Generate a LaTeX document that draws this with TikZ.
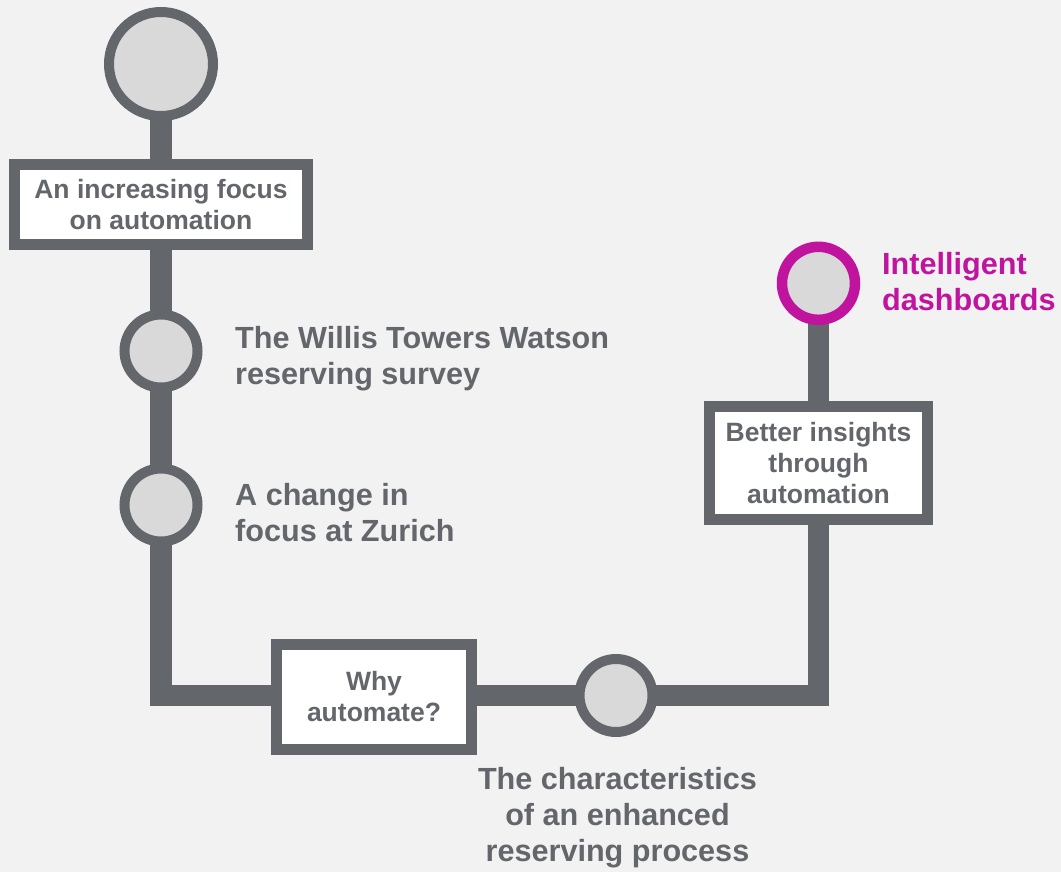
\documentclass[tikz,border=0pt]{standalone}
\usepackage{fontspec}
\setmainfont{Liberation Sans}
\definecolor{slate}{HTML}{63666A}
\definecolor{paper}{HTML}{F2F2F2}
\definecolor{bead}{HTML}{D9D9D9}
\definecolor{berry}{RGB}{192,20,158}
\pgfdeclarelayer{paperlayer}
\pgfdeclarelayer{wirelayer}
\pgfsetlayers{paperlayer,wirelayer,main}

\begin{document}
\begin{tikzpicture}[x=1pt,y=-1pt,
  track/.style={draw=slate,line width=21.5pt,line join=miter},
  bigstop/.style={circle,draw=slate,fill=bead,line width=10pt,minimum size=104pt,inner sep=0pt},
  stop/.style={circle,draw=slate,fill=bead,line width=10pt,minimum size=73pt,inner sep=0pt},
  goal/.style={stop,draw=berry,line width=10.5pt},
  station/.style={rectangle,draw=slate,fill=white,line width=11pt,inner sep=0pt,
    align=center,text=slate,font=\fontsize{26.5}{31}\selectfont\bfseries},
  caption/.style={inner sep=0pt,text=slate,font=\fontsize{30.6}{36}\selectfont\bfseries}
]
\useasboundingbox (0,0) rectangle (1061,872);
\begin{pgfonlayer}{paperlayer}
  \fill[paper] (0,0) rectangle (1061,872);
\end{pgfonlayer}

% stops along the line
\node[bigstop] (start) at (161,64) {};
\node[station,minimum width=293pt,minimum height=80pt] (focus) at (161,204.5)
  {An increasing focus\\on automation};
\node[stop] (survey) at (161,351) {};
\node[stop] (zurich) at (161,505) {};
\node[station,minimum width=195pt,minimum height=105pt] (why) at (374,697)
  {Why\\automate?};
\node[stop] (traits) at (616,695.5) {};
\node[station,minimum width=218pt,minimum height=112.5pt] (insights) at (818.5,463.2)
  {Better insights\\through\\automation};
\node[goal] (dash) at (818.5,283.3) {};

\coordinate (bendL) at (161,695.5);
\coordinate (bendR) at (818.5,695.5);

% labels beside the stops
\node[caption,anchor=north west,align=left] (surveytxt) at (235,326)
  {The Willis Towers Watson\\reserving survey};
\node[caption,anchor=north west,align=left] (zurichtxt) at (235,483)
  {A change in\\focus at Zurich};
\node[caption,anchor=north,align=center] (traitstxt) at (617.5,767)
  {The characteristics\\of an enhanced\\reserving process};
\node[caption,anchor=north west,align=left,text=berry] (dashtxt) at (882,252)
  {Intelligent\\dashboards};

% the line itself, behind the stops
\begin{pgfonlayer}{wirelayer}
  \draw[track] (start.center) -- (bendL) -- (bendR) -- (dash.center);
\end{pgfonlayer}
\end{tikzpicture}
\end{document}
